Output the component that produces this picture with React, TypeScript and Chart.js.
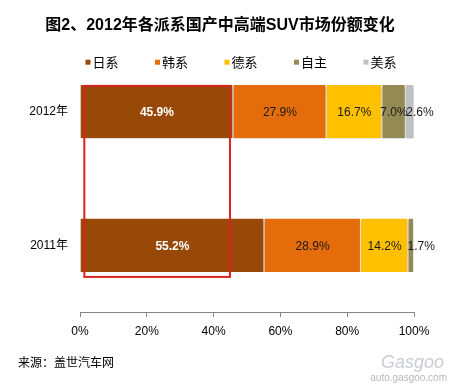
import React, { useEffect, useRef } from 'react';
import { Chart, registerables } from 'chart.js';

Chart.register(...registerables);

// ---- data ----
const categories = ['2012年', '2011年'];
const seriesNames = ['日系', '韩系', '德系', '自主', '美系'];
const japanShare = [45.9, 55.2];
const koreaShare = [27.9, 28.9];
const germanyShare = [16.7, 14.2];
const domesticShare = [7.0, 1.7];
const usaShare = [2.6, 0];
const xTickValues = [0, 20, 40, 60, 80, 100];
const titleText = '图2、2012年各派系国产中高端SUV市场份额变化';
const sourceText = '来源：盖世汽车网';
const watermarkText = 'auto.gasgoo.com';
const highlightFrom = 1.3; // % on the x scale
const highlightTo = 44.9;

const seriesValues = [japanShare, koreaShare, germanyShare, domesticShare, usaShare];
const seriesColors = ['#984807', '#E46C0A', '#FFC000', '#948A54', '#C0C0C0'];

const LATIN = '"Liberation Sans", "Noto Sans CJK SC", Arial, sans-serif';
const CJK = '"Noto Sans CJK SC", "Liberation Sans", sans-serif';

const shadowPlugin = {
  id: 'barShadow',
  beforeDatasetsDraw(chart: any) {
    const ctx = chart.ctx;
    ctx.save();
    ctx.shadowColor = 'rgba(0,0,0,0.35)';
    ctx.shadowOffsetY = 2;
    ctx.shadowBlur = 2;
  },
  afterDatasetsDraw(chart: any) {
    chart.ctx.restore();
  },
};

const labelPlugin = {
  id: 'segmentLabels',
  afterDatasetsDraw(chart: any) {
    const ctx = chart.ctx;
    ctx.save();
    ctx.textAlign = 'center';
    ctx.textBaseline = 'middle';
    chart.data.datasets.forEach((ds: any, di: number) => {
      const meta = chart.getDatasetMeta(di);
      meta.data.forEach((el: any, i: number) => {
        const v = ds.data[i].x;
        if (!v) return;
        let cx = (el.x + el.base) / 2;
        if (v < 3) cx += 10;
        if (di === 0) {
          ctx.font = 'bold 12px ' + LATIN;
          ctx.fillStyle = '#ffffff';
        } else {
          ctx.font = '12px ' + LATIN;
          ctx.fillStyle = '#1a1a1a';
        }
        ctx.fillText(v.toFixed(1) + '%', cx, el.y + 1);
      });
    });
    ctx.restore();
  },
};

const highlightPlugin = {
  id: 'highlightBox',
  afterDatasetsDraw(chart: any) {
    const ctx = chart.ctx;
    const xs = chart.scales.x;
    const meta = chart.getDatasetMeta(0);
    const first = meta.data[0];
    const last = meta.data[meta.data.length - 1];
    const left = xs.getPixelForValue(highlightFrom);
    const right = xs.getPixelForValue(highlightTo);
    const top = first.y - first.height / 2 + 1;
    const bottom = last.y + last.height / 2 + 5;
    ctx.save();
    ctx.strokeStyle = '#D8231F';
    ctx.lineWidth = 2;
    ctx.strokeRect(left, top, right - left, bottom - top);
    ctx.restore();
  },
};

// legend drawn from the chart's datasets, placed between title and plot
const legendPlugin = {
  id: 'rowLegend',
  afterDraw(chart: any) {
    const ctx = chart.ctx;
    const area = chart.chartArea;
    const items = chart.data.datasets.map((ds: any) => ({ text: ds.label, color: ds.backgroundColor }));
    const box = 5;
    const gap = 2;
    const spacing = 36.5;
    ctx.save();
    ctx.font = '13px ' + CJK;
    ctx.textBaseline = 'middle';
    ctx.textAlign = 'left';
    const widths = items.map((it: any) => box + gap + ctx.measureText(it.text).width);
    const total = widths.reduce((a: number, b: number) => a + b, 0) + spacing * (items.length - 1);
    let x = (area.left + area.right) / 2 - 6 - total / 2;
    const y = area.top - 16;
    items.forEach((it: any, i: number) => {
      ctx.fillStyle = it.color;
      ctx.fillRect(x, y - box / 2, box, box);
      ctx.fillStyle = '#000';
      ctx.fillText(it.text, x + box + gap, y);
      x += widths[i] + spacing;
    });
    ctx.restore();
  },
};

const footerPlugin = {
  id: 'footerTexts',
  afterDraw(chart: any) {
    const ctx = chart.ctx;
    ctx.save();
    ctx.textBaseline = 'middle';
    ctx.textAlign = 'left';
    ctx.fillStyle = '#000';
    ctx.font = '12px ' + CJK;
    ctx.fillText(sourceText, 18, 362);
    ctx.fillStyle = '#b8b8b8';
    ctx.font = '10px ' + LATIN;
    ctx.textAlign = 'right';
    ctx.fillText(watermarkText, 447, 378);
    ctx.font = 'italic 18px ' + LATIN;
    ctx.fillStyle = '#c8ccd4';
    ctx.fillText('Gasgoo', 444, 363);
    ctx.restore();
  },
};

export default function App() {
  const canvasRef = useRef<HTMLCanvasElement | null>(null);

  useEffect(() => {
    const canvas = canvasRef.current;
    if (!canvas) return;
    const datasets = seriesNames.map((name, si) => ({
      label: name,
      data: categories.map((_, ci) => ({ x: seriesValues[si][ci], y: ci })),
      backgroundColor: seriesColors[si],
      borderColor: '#ffffff',
      borderWidth: { top: 0, bottom: 0, left: 0, right: 1 },
      borderSkipped: false,
      categoryPercentage: 0.8,
      barPercentage: 0.5,
    }));

    const chart = new Chart(canvas, {
      type: 'bar',
      data: { datasets },
      options: {
        indexAxis: 'y',
        animation: false,
        responsive: false,
        maintainAspectRatio: false,
        events: [],
        layout: { padding: { left: 26, right: 38, top: 0, bottom: 0 } },
        plugins: {
          title: {
            display: true,
            text: titleText,
            color: '#000',
            font: { family: LATIN, size: 16, weight: 'bold' },
            padding: { top: 16, bottom: 43 },
          },
          legend: { display: false },
          tooltip: { enabled: false },
        },
        scales: {
          x: {
            type: 'linear',
            position: 'bottom',
            stacked: true,
            min: 0,
            max: 100,
            bounds: 'data',
            afterBuildTicks: (scale: any) => {
              scale.ticks = xTickValues.map((v) => ({ value: v }));
            },
            ticks: {
              callback: (v: any) => v + '%',
              color: '#000',
              padding: 7,
              font: { family: LATIN, size: 12 },
              maxRotation: 0,
            },
            grid: {
              drawOnChartArea: false,
              drawTicks: true,
              tickLength: 5,
              color: '#868686',
            },
            border: { display: true, color: '#868686', width: 1 },
            afterFit: (scale: any) => {
              scale.height = 74;
            },
          },
          y: {
            type: 'linear',
            reverse: true,
            stacked: true,
            offset: false,
            bounds: 'data',
            min: -0.25,
            max: 1.5,
            afterBuildTicks: (scale: any) => {
              scale.ticks = categories.map((_, i) => ({ value: i }));
            },
            ticks: {
              callback: (v: any) => categories[v] ?? '',
              color: '#000',
              padding: 12,
              font: { family: LATIN, size: 12 },
            },
            grid: { display: false, drawTicks: false, offset: false },
            border: { display: false },
            afterFit: (scale: any) => {
              scale.width = 54;
            },
          },
        },
      } as any,
      plugins: [shadowPlugin, labelPlugin, highlightPlugin, legendPlugin, footerPlugin],
    });
    return () => chart.destroy();
  }, []);

  return (
    <div style={{ position: 'fixed', left: 0, top: 0, width: 452, height: 386, background: '#fff' }}>
      <canvas ref={canvasRef} width={452} height={386} style={{ display: 'block' }} />
    </div>
  );
}
